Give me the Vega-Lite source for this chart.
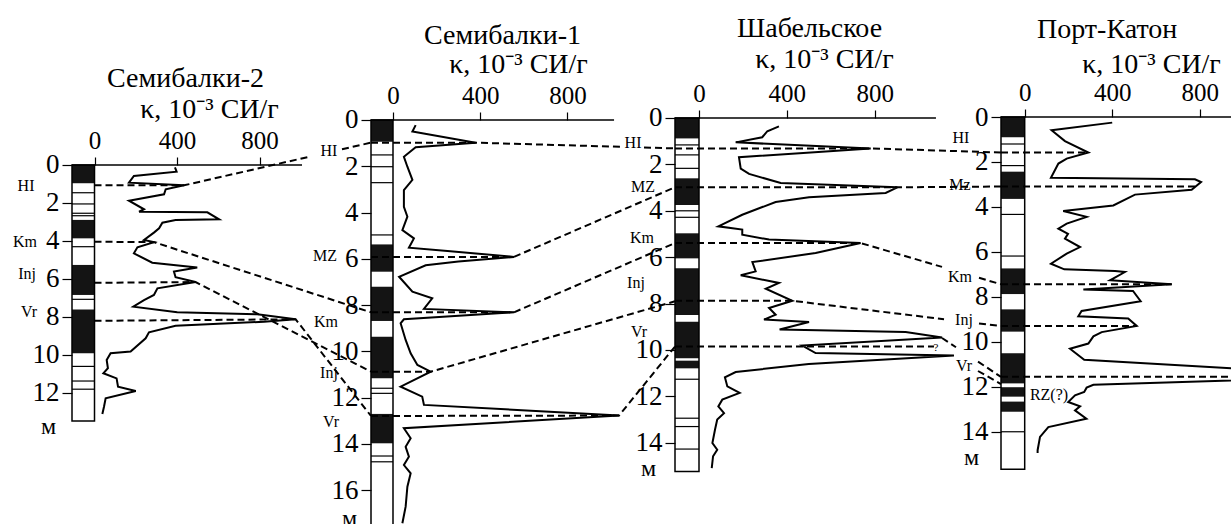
{
"$schema": "https://vega.github.io/schema/vega-lite/v6.json",
"padding": {"left": 12, "top": 15, "right": 0, "bottom": 0},
"spacing": 0,
"bounds": "flush",
"config": {
  "view": {"stroke": null},
  "axis": {"domain": false, "grid": false, "tickColor": "black", "tickWidth": 1.2, "labelFont": "Liberation Serif", "labelColor": "black", "titleFont": "Liberation Serif", "titleFontWeight": "normal", "titleColor": "black"},
  "axisTop": {"labelFontSize": 25, "tickSize": 8, "labelPadding": 4, "titleFontSize": 28, "titleAlign": "center", "titleBaseline": "alphabetic"},
  "axisLeft": {"labelFontSize": 27, "tickSize": 10, "labelPadding": 3, "titleFontSize": 24, "titleAngle": 0, "titleAlign": "center", "titleBaseline": "middle"},
  "title": {"font": "Liberation Serif", "fontSize": 28, "fontWeight": "normal", "color": "black", "anchor": "start", "frame": "group", "align": "left", "baseline": "alphabetic"},
  "text": {"font": "Liberation Serif", "fontSize": 16, "color": "black", "align": "center", "baseline": "middle"}
},
"datasets": {
  "c1": [{"k":390,"d":0.12},{"k":398,"d":0.35},{"k":191,"d":0.58},{"k":167,"d":0.93},{"k":434,"d":1.07},{"k":345,"d":1.28},{"k":337,"d":1.54},{"k":167,"d":1.88},{"k":240,"d":2.33},{"k":216,"d":2.46},{"k":547,"d":2.49},{"k":604,"d":2.86},{"k":393,"d":2.9},{"k":329,"d":3.04},{"k":313,"d":3.33},{"k":288,"d":3.56},{"k":240,"d":3.95},{"k":288,"d":4.06},{"k":208,"d":4.33},{"k":191,"d":4.65},{"k":280,"d":5.14},{"k":498,"d":5.39},{"k":385,"d":5.61},{"k":393,"d":5.91},{"k":490,"d":6.16},{"k":305,"d":6.49},{"k":288,"d":6.84},{"k":240,"d":7.11},{"k":188,"d":7.46},{"k":401,"d":7.75},{"k":789,"d":7.86},{"k":975,"d":8.12},{"k":822,"d":8.25},{"k":393,"d":8.46},{"k":264,"d":8.81},{"k":248,"d":9.12},{"k":175,"d":9.82},{"k":78,"d":9.91},{"k":59,"d":10.26},{"k":65,"d":10.7},{"k":43,"d":10.96},{"k":107,"d":11.23},{"k":114,"d":11.67},{"k":200,"d":11.89},{"k":54,"d":12.28},{"k":46,"d":12.72},{"k":38,"d":13.11}],
  "b1": [{"kind":"core","d":0,"d2":13.47},{"kind":"black","d":0,"d2":0.96},{"kind":"black","d":2.89,"d2":3.86},{"kind":"black","d":5.26,"d2":6.84},{"kind":"black","d":7.6,"d2":9.91},{"kind":"line","d":1.46},{"kind":"line","d":2.05},{"kind":"line","d":2.54},{"kind":"line","d":2.67},{"kind":"line","d":4.3},{"kind":"line","d":7.07},{"kind":"line","d":10.6},{"kind":"line","d":11.37},{"kind":"line","d":11.8}],
  "l1": [{"id":"HI-a","k":0,"d":1.07},{"id":"HI-a","k":434,"d":1.07},{"id":"HI-a","k":1049.4,"d":-0.455},{"id":"HI-b","k":1199.7,"d":-0.827},{"id":"HI-b","k":1340.3,"d":-1.176},{"id":"Km","k":0,"d":4.04},{"id":"Km","k":288,"d":4.06},{"id":"Km","k":1340.3,"d":7.753},{"id":"Inj","k":0,"d":6.2},{"id":"Inj","k":490,"d":6.16},{"id":"Inj","k":1340.3,"d":10.879},{"id":"Vr","k":0,"d":8.2},{"id":"Vr","k":975,"d":8.12},{"id":"Vr","k":1340.3,"d":13.21}],
  "t1": [{"t":"HI","k":-332,"d":1.105},{"t":"Km","k":-337,"d":4.05},{"t":"Inj","k":-327,"d":5.74},{"t":"Vr","k":-317.5,"d":7.74}],
  "c2": [{"k":104,"d":0.22},{"k":89,"d":0.5},{"k":379,"d":0.98},{"k":104,"d":1.18},{"k":50,"d":1.59},{"k":66,"d":2.02},{"k":89,"d":2.59},{"k":50,"d":3.03},{"k":50,"d":3.75},{"k":66,"d":4.18},{"k":43,"d":4.76},{"k":96,"d":5.12},{"k":73,"d":5.52},{"k":250,"d":5.66},{"k":555,"d":5.92},{"k":300,"d":6.12},{"k":150,"d":6.28},{"k":28,"d":6.78},{"k":89,"d":7.42},{"k":180,"d":7.71},{"k":142,"d":8.17},{"k":555,"d":8.316},{"k":50,"d":8.62},{"k":35,"d":8.79},{"k":58,"d":9.51},{"k":81,"d":10.09},{"k":112,"d":10.59},{"k":173,"d":10.884},{"k":35,"d":11.53},{"k":134,"d":11.96},{"k":142,"d":12.32},{"k":1037,"d":12.78},{"k":50,"d":13.33},{"k":81,"d":13.76},{"k":58,"d":14.13},{"k":73,"d":14.56},{"k":50,"d":14.92},{"k":81,"d":15.28},{"k":66,"d":15.86},{"k":58,"d":16.72},{"k":43,"d":17.44}],
  "b2": [{"kind":"core","d":0,"d2":18},{"kind":"black","d":0,"d2":0.94},{"kind":"black","d":5.38,"d2":6.56},{"kind":"black","d":7.21,"d2":8.69},{"kind":"black","d":9.37,"d2":11.17},{"kind":"black","d":12.71,"d2":13.98},{"kind":"line","d":1.51},{"kind":"line","d":2.02},{"kind":"line","d":2.71},{"kind":"line","d":4.97},{"kind":"line","d":11.6},{"kind":"line","d":11.82},{"kind":"line","d":14.53},{"kind":"line","d":14.78}],
  "l2": [{"id":"HI-a","k":-100.9,"d":0.98},{"id":"HI-a","k":379,"d":0.98},{"id":"HI-a","k":1045.9,"d":1.161},{"id":"HI-b","k":1151.4,"d":1.189},{"id":"HI-b","k":1293.6,"d":1.228},{"id":"MZ","k":-100.9,"d":5.92},{"id":"MZ","k":555,"d":5.92},{"id":"MZ","k":1293.6,"d":2.91},{"id":"Km","k":-100.9,"d":8.316},{"id":"Km","k":555,"d":8.316},{"id":"Km","k":1293.6,"d":5.319},{"id":"Inj","k":-100.9,"d":10.884},{"id":"Inj","k":173,"d":10.884},{"id":"Inj","k":1293.6,"d":7.84},{"id":"Vr","k":-100.9,"d":12.8},{"id":"Vr","k":1037,"d":12.78},{"id":"Vr","k":1293.6,"d":9.795}],
  "t2": [{"t":"HI","k":-293.6,"d":1.34},{"t":"MZ","k":-311.9,"d":5.88},{"t":"Km","k":-307.3,"d":8.735},{"t":"Inj","k":-293.6,"d":10.94},{"t":"Vr","k":-284.4,"d":13.06}],
  "c3": [{"k":364,"d":0.36},{"k":311,"d":0.57},{"k":288,"d":0.83},{"k":167,"d":1.05},{"k":782,"d":1.31},{"k":182,"d":1.69},{"k":190,"d":2.18},{"k":228,"d":2.41},{"k":372,"d":2.8},{"k":903,"d":2.987},{"k":850,"d":3.23},{"k":501,"d":3.42},{"k":349,"d":3.62},{"k":197,"d":4.17},{"k":88,"d":4.67},{"k":197,"d":4.81},{"k":197,"d":5.03},{"k":319,"d":5.24},{"k":736,"d":5.39},{"k":531,"d":5.82},{"k":243,"d":6.21},{"k":258,"d":6.61},{"k":190,"d":6.78},{"k":364,"d":7.11},{"k":304,"d":7.36},{"k":425,"d":7.88},{"k":319,"d":8.19},{"k":349,"d":8.48},{"k":296,"d":8.69},{"k":501,"d":8.79},{"k":367,"d":9.12},{"k":941,"d":9.22},{"k":1107,"d":9.46},{"k":470,"d":9.81},{"k":531,"d":10.13},{"k":1161,"d":10.24},{"k":500,"d":10.6},{"k":167,"d":10.95},{"k":118,"d":11.18},{"k":129,"d":11.57},{"k":185,"d":11.85},{"k":106,"d":12.14},{"k":88,"d":12.43},{"k":114,"d":12.72},{"k":83,"d":13.0},{"k":73,"d":13.43},{"k":61,"d":14.01},{"k":83,"d":14.3},{"k":64,"d":14.58},{"k":58,"d":15.09}],
  "b3": [{"kind":"core","d":0,"d2":15.24},{"kind":"black","d":0,"d2":0.88},{"kind":"black","d":2.6,"d2":3.75},{"kind":"black","d":4.97,"d2":6.05},{"kind":"black","d":6.48,"d2":8.49},{"kind":"black","d":8.78,"d2":10.36},{"kind":"black","d":10.46,"d2":10.79},{"kind":"line","d":1.16},{"kind":"line","d":1.59},{"kind":"line","d":2.17},{"kind":"line","d":4.0},{"kind":"line","d":4.28},{"kind":"line","d":11.26},{"kind":"line","d":12.94},{"kind":"line","d":13.3},{"kind":"line","d":14.27}],
  "l3": [{"id":"HI","k":-109.3,"d":1.31},{"id":"HI","k":782,"d":1.31},{"id":"HI","k":1375.2,"d":1.487},{"id":"MZ","k":-109.3,"d":2.987},{"id":"MZ","k":903,"d":2.987},{"id":"MZ","k":1375.2,"d":2.953},{"id":"Km-a","k":-109.3,"d":5.39},{"id":"Km-a","k":736,"d":5.39},{"id":"Km-a","k":1106.6,"d":6.418},{"id":"Km-b","k":1275,"d":6.888},{"id":"Km-b","k":1375.2,"d":7.168},{"id":"Inj-a","k":-109.3,"d":7.88},{"id":"Inj-a","k":425,"d":7.88},{"id":"Inj-a","k":1115.7,"d":8.675},{"id":"Inj-b","k":1275,"d":8.853},{"id":"Inj-b","k":1375.2,"d":8.966},{"id":"Vr","k":-109.3,"d":9.85},{"id":"Vr","k":1070,"d":9.85},{"id":"Vr1a","k":1106.6,"d":9.483},{"id":"Vr1a","k":1170.3,"d":9.88},{"id":"Vr1b","k":1270.5,"d":10.5},{"id":"Vr1b","k":1375.2,"d":11.16},{"id":"Vr2","k":1270.5,"d":10.905},{"id":"Vr2","k":1375.2,"d":11.466}],
  "t3": [{"t":"HI","k":-300.5,"d":1.078},{"t":"MZ","k":-255,"d":2.974},{"t":"Km","k":-259.6,"d":5.172},{"t":"Inj","k":-286.9,"d":7.112},{"t":"Vr","k":-273.2,"d":9.224},{"t":"?","k":1079.2,"d":9.914}],
  "c4": [{"k":400,"d":0.25},{"k":123,"d":0.59},{"k":184,"d":1.07},{"k":291,"d":1.578},{"k":192,"d":1.85},{"k":154,"d":2.07},{"k":120,"d":2.7},{"k":778,"d":2.77},{"k":806,"d":2.89},{"k":763,"d":3.23},{"k":504,"d":3.45},{"k":405,"d":3.93},{"k":176,"d":4.18},{"k":283,"d":4.44},{"k":192,"d":4.74},{"k":154,"d":4.96},{"k":198,"d":5.19},{"k":184,"d":5.41},{"k":253,"d":5.78},{"k":192,"d":6.07},{"k":120,"d":6.52},{"k":181,"d":6.77},{"k":413,"d":6.84},{"k":458,"d":6.89},{"k":390,"d":7.26},{"k":672,"d":7.436},{"k":268,"d":7.67},{"k":495,"d":7.73},{"k":530,"d":8.19},{"k":260,"d":8.62},{"k":245,"d":8.86},{"k":473,"d":8.96},{"k":512,"d":9.289},{"k":352,"d":9.56},{"k":314,"d":9.75},{"k":291,"d":10.07},{"k":207,"d":10.3},{"k":272,"d":10.79},{"k":1569,"d":11.53},{"k":314,"d":11.9},{"k":283,"d":12.03},{"k":272,"d":12.22},{"k":230,"d":12.37},{"k":199,"d":12.67},{"k":253,"d":12.86},{"k":230,"d":13.04},{"k":282,"d":13.41},{"k":108,"d":13.78},{"k":70,"d":14.22},{"k":59,"d":14.81},{"k":59,"d":14.93}],
  "b4": [{"kind":"core","d":0,"d2":15.66},{"kind":"black","d":0,"d2":0.9},{"kind":"black","d":2.43,"d2":3.64},{"kind":"black","d":6.73,"d2":7.87},{"kind":"black","d":8.55,"d2":9.54},{"kind":"black","d":10.5,"d2":11.84},{"kind":"black","d":12.01,"d2":12.43},{"kind":"black","d":12.65,"d2":13.1},{"kind":"line","d":1.2},{"kind":"line","d":2.16},{"kind":"line","d":4.33},{"kind":"line","d":6.18},{"kind":"line","d":13.99}],
  "l4": [{"id":"HI","k":-108.3,"d":1.578},{"id":"HI","k":291,"d":1.578},{"id":"Mz","k":-108.3,"d":3.089},{"id":"Mz","k":790,"d":3.089},{"id":"Km","k":-108.3,"d":7.436},{"id":"Km","k":672,"d":7.436},{"id":"Inj","k":-108.3,"d":9.289},{"id":"Inj","k":512,"d":9.289},{"id":"Vr","k":-108.3,"d":11.55},{"id":"Vr","k":1400,"d":11.55}],
  "t4": [{"t":"HI","k":-291.1,"d":0.933},{"t":"Mz","k":-295.7,"d":3.022},{"t":"Km","k":-295.7,"d":7.111},{"t":"Inj","k":-277.4,"d":9.022},{"t":"Vr","k":-277.4,"d":11.067},{"t":"RZ(?)","k":111.1,"d":12.356}]
},
"hconcat": [
 {
  "width": 299, "height": 407,
  "title": {"text": "Семибалки-2", "dx": 35, "offset": 2},
  "layer": [
   {"data": {"name": "b1"}, "transform": [{"filter": "datum.kind === 'black'"}],
    "mark": {"type": "rect", "fill": "#141414"},
    "encoding": {
     "x": {"datum": -109.1, "type": "quantitative", "scale": {"domain": [-109.1, 1340.3], "nice": false, "zero": false},
           "axis": {"orient": "top", "offset": -48, "values": [0, 400, 800], "title": "κ, 10⁻³ СИ/г", "titleX": 137, "titleY": -48}},
     "x2": {"datum": 0},
     "y": {"field": "d", "type": "quantitative", "scale": {"domain": [-2.526, 18.895], "reverse": true, "nice": false, "zero": false},
           "axis": {"orient": "left", "values": [0, 2, 4, 6, 8, 10, 12], "title": "м", "titleX": -24, "titleY": 309}},
     "y2": {"field": "d2"}}},
   {"data": {"name": "b1"}, "transform": [{"filter": "datum.kind === 'line'"}],
    "mark": {"type": "rule", "color": "black", "strokeWidth": 1.2},
    "encoding": {"x": {"datum": -109.1, "type": "quantitative"}, "x2": {"datum": 0}, "y": {"field": "d", "type": "quantitative"}}},
   {"data": {"name": "b1"}, "transform": [{"filter": "datum.kind === 'core'"}],
    "mark": {"type": "rect", "fill": null, "stroke": "black", "strokeWidth": 1.5},
    "encoding": {"x": {"datum": -109.1, "type": "quantitative"}, "x2": {"datum": 0}, "y": {"field": "d", "type": "quantitative"}, "y2": {"field": "d2"}}},
   {"data": {"name": "b1"}, "transform": [{"filter": "datum.kind === 'core'"}],
    "mark": {"type": "rule", "color": "black", "strokeWidth": 1.3},
    "encoding": {"x": {"datum": -109.1, "type": "quantitative"}, "x2": {"datum": 1006}, "y": {"datum": 0, "type": "quantitative"}}},
   {"data": {"name": "c1"}, "mark": {"type": "line", "color": "black", "strokeWidth": 2},
    "encoding": {"x": {"field": "k", "type": "quantitative"}, "y": {"field": "d", "type": "quantitative"}, "order": {"field": "d"}}},
   {"data": {"name": "l1"}, "mark": {"type": "line", "color": "black", "strokeWidth": 2, "strokeDash": [7, 4]},
    "encoding": {"x": {"field": "k", "type": "quantitative"}, "y": {"field": "d", "type": "quantitative"}, "detail": {"field": "id"}, "order": {"field": "k"}}},
   {"data": {"name": "t1"}, "mark": {"type": "text"},
    "encoding": {"x": {"field": "k", "type": "quantitative"}, "y": {"field": "d", "type": "quantitative"}, "text": {"field": "t"}}}
  ]
 },
 {
  "width": 304, "height": 407,
  "title": {"text": "Семибалки-1", "dx": 53, "offset": 0},
  "layer": [
   {"data": {"name": "b2"}, "transform": [{"filter": "datum.kind === 'black'"}],
    "mark": {"type": "rect", "fill": "#141414"},
    "encoding": {
     "x": {"datum": -100.9, "type": "quantitative", "scale": {"domain": [-100.9, 1293.6], "nice": false, "zero": false},
           "axis": {"orient": "top", "offset": -3, "values": [0, 400, 800], "title": "κ, 10⁻³ СИ/г", "titleX": 147, "titleY": -48}},
     "x2": {"datum": 0},
     "y": {"field": "d", "type": "quantitative", "scale": {"domain": [-0.1297, 17.47], "reverse": true, "nice": false, "zero": false},
           "axis": {"orient": "left", "values": [0, 2, 4, 6, 8, 10, 12, 14, 16], "title": "м", "titleX": -22, "titleY": 401}},
     "y2": {"field": "d2"}}},
   {"data": {"name": "b2"}, "transform": [{"filter": "datum.kind === 'line'"}],
    "mark": {"type": "rule", "color": "black", "strokeWidth": 1.2},
    "encoding": {"x": {"datum": -100.9, "type": "quantitative"}, "x2": {"datum": 0}, "y": {"field": "d", "type": "quantitative"}}},
   {"data": {"name": "b2"}, "transform": [{"filter": "datum.kind === 'core'"}],
    "mark": {"type": "rect", "fill": null, "stroke": "black", "strokeWidth": 1.5},
    "encoding": {"x": {"datum": -100.9, "type": "quantitative"}, "x2": {"datum": 0}, "y": {"field": "d", "type": "quantitative"}, "y2": {"field": "d2"}}},
   {"data": {"name": "b2"}, "transform": [{"filter": "datum.kind === 'core'"}],
    "mark": {"type": "rule", "color": "black", "strokeWidth": 1.3},
    "encoding": {"x": {"datum": -100.9, "type": "quantitative"}, "x2": {"datum": 1014}, "y": {"datum": 0, "type": "quantitative"}}},
   {"data": {"name": "c2"}, "mark": {"type": "line", "color": "black", "strokeWidth": 2},
    "encoding": {"x": {"field": "k", "type": "quantitative"}, "y": {"field": "d", "type": "quantitative"}, "order": {"field": "d"}}},
   {"data": {"name": "l2"}, "mark": {"type": "line", "color": "black", "strokeWidth": 2, "strokeDash": [7, 4]},
    "encoding": {"x": {"field": "k", "type": "quantitative"}, "y": {"field": "d", "type": "quantitative"}, "detail": {"field": "id"}, "order": {"field": "k"}}},
   {"data": {"name": "t2"}, "mark": {"type": "text"},
    "encoding": {"x": {"field": "k", "type": "quantitative"}, "y": {"field": "d", "type": "quantitative"}, "text": {"field": "t"}}}
  ]
 },
 {
  "width": 326, "height": 407,
  "title": {"text": "Шабельское", "dx": 62, "offset": 2},
  "layer": [
   {"data": {"name": "b3"}, "transform": [{"filter": "datum.kind === 'black'"}],
    "mark": {"type": "rect", "fill": "#141414"},
    "encoding": {
     "x": {"datum": -109.3, "type": "quantitative", "scale": {"domain": [-109.3, 1375.2], "nice": false, "zero": false},
           "axis": {"orient": "top", "offset": -1, "values": [0, 400, 800], "title": "κ, 10⁻³ СИ/г", "titleX": 149, "titleY": -51}},
     "x2": {"datum": 0},
     "y": {"field": "d", "type": "quantitative", "scale": {"domain": [-0.0431, 17.5], "reverse": true, "nice": false, "zero": false},
           "axis": {"orient": "left", "values": [0, 2, 4, 6, 8, 10, 12, 14], "title": "м", "titleX": -27, "titleY": 351}},
     "y2": {"field": "d2"}}},
   {"data": {"name": "b3"}, "transform": [{"filter": "datum.kind === 'line'"}],
    "mark": {"type": "rule", "color": "black", "strokeWidth": 1.2},
    "encoding": {"x": {"datum": -109.3, "type": "quantitative"}, "x2": {"datum": 0}, "y": {"field": "d", "type": "quantitative"}}},
   {"data": {"name": "b3"}, "transform": [{"filter": "datum.kind === 'core'"}],
    "mark": {"type": "rect", "fill": null, "stroke": "black", "strokeWidth": 1.5},
    "encoding": {"x": {"datum": -109.3, "type": "quantitative"}, "x2": {"datum": 0}, "y": {"field": "d", "type": "quantitative"}, "y2": {"field": "d2"}}},
   {"data": {"name": "b3"}, "transform": [{"filter": "datum.kind === 'core'"}],
    "mark": {"type": "rule", "color": "black", "strokeWidth": 1.3},
    "encoding": {"x": {"datum": -109.3, "type": "quantitative"}, "x2": {"datum": 1079}, "y": {"datum": 0, "type": "quantitative"}}},
   {"data": {"name": "c3"}, "mark": {"type": "line", "color": "black", "strokeWidth": 2},
    "encoding": {"x": {"field": "k", "type": "quantitative"}, "y": {"field": "d", "type": "quantitative"}, "order": {"field": "d"}}},
   {"data": {"name": "l3"}, "mark": {"type": "line", "color": "black", "strokeWidth": 2, "strokeDash": [7, 4]},
    "encoding": {"x": {"field": "k", "type": "quantitative"}, "y": {"field": "d", "type": "quantitative"}, "detail": {"field": "id"}, "order": {"field": "k"}}},
   {"data": {"name": "t3"}, "transform": [{"filter": "datum.t !== '?'"}], "mark": {"type": "text"},
    "encoding": {"x": {"field": "k", "type": "quantitative"}, "y": {"field": "d", "type": "quantitative"}, "text": {"field": "t"}}},
   {"data": {"name": "t3"}, "transform": [{"filter": "datum.t === '?'"}], "mark": {"type": "text", "fontSize": 11},
    "encoding": {"x": {"field": "k", "type": "quantitative"}, "y": {"field": "d", "type": "quantitative"}, "text": {"field": "t"}}}
  ]
 },
 {
  "width": 229, "height": 407,
  "title": {"text": "Порт-Катон", "dx": 36, "offset": 6},
  "layer": [
   {"data": {"name": "b4"}, "transform": [{"filter": "datum.kind === 'black'"}],
    "mark": {"type": "rect", "fill": "#141414"},
    "encoding": {
     "x": {"datum": -108.3, "type": "quantitative", "scale": {"domain": [-108.3, 938.3], "nice": false, "zero": false},
           "axis": {"orient": "top", "offset": 0, "values": [0, 400, 800], "title": "κ, 10⁻³ СИ/г", "titleX": 150, "titleY": -45}},
     "x2": {"datum": 0},
     "y": {"field": "d", "type": "quantitative", "scale": {"domain": [0, 18.09], "reverse": true, "nice": false, "zero": false},
           "axis": {"orient": "left", "values": [0, 2, 4, 6, 8, 10, 12, 14], "title": "м", "titleX": -30, "titleY": 340}},
     "y2": {"field": "d2"}}},
   {"data": {"name": "b4"}, "transform": [{"filter": "datum.kind === 'line'"}],
    "mark": {"type": "rule", "color": "black", "strokeWidth": 1.2},
    "encoding": {"x": {"datum": -108.3, "type": "quantitative"}, "x2": {"datum": 0}, "y": {"field": "d", "type": "quantitative"}}},
   {"data": {"name": "b4"}, "transform": [{"filter": "datum.kind === 'core'"}],
    "mark": {"type": "rect", "fill": null, "stroke": "black", "strokeWidth": 1.5},
    "encoding": {"x": {"datum": -108.3, "type": "quantitative"}, "x2": {"datum": 0}, "y": {"field": "d", "type": "quantitative"}, "y2": {"field": "d2"}}},
   {"data": {"name": "b4"}, "transform": [{"filter": "datum.kind === 'core'"}],
    "mark": {"type": "rule", "color": "black", "strokeWidth": 1.3},
    "encoding": {"x": {"datum": -108.3, "type": "quantitative"}, "x2": {"datum": 1000}, "y": {"datum": 0, "type": "quantitative"}}},
   {"data": {"name": "c4"}, "mark": {"type": "line", "color": "black", "strokeWidth": 2},
    "encoding": {"x": {"field": "k", "type": "quantitative"}, "y": {"field": "d", "type": "quantitative"}, "order": {"field": "d"}}},
   {"data": {"name": "l4"}, "mark": {"type": "line", "color": "black", "strokeWidth": 2, "strokeDash": [7, 4]},
    "encoding": {"x": {"field": "k", "type": "quantitative"}, "y": {"field": "d", "type": "quantitative"}, "detail": {"field": "id"}, "order": {"field": "k"}}},
   {"data": {"name": "t4"}, "mark": {"type": "text"},
    "encoding": {"x": {"field": "k", "type": "quantitative"}, "y": {"field": "d", "type": "quantitative"}, "text": {"field": "t"}}}
  ]
 }
]
}
